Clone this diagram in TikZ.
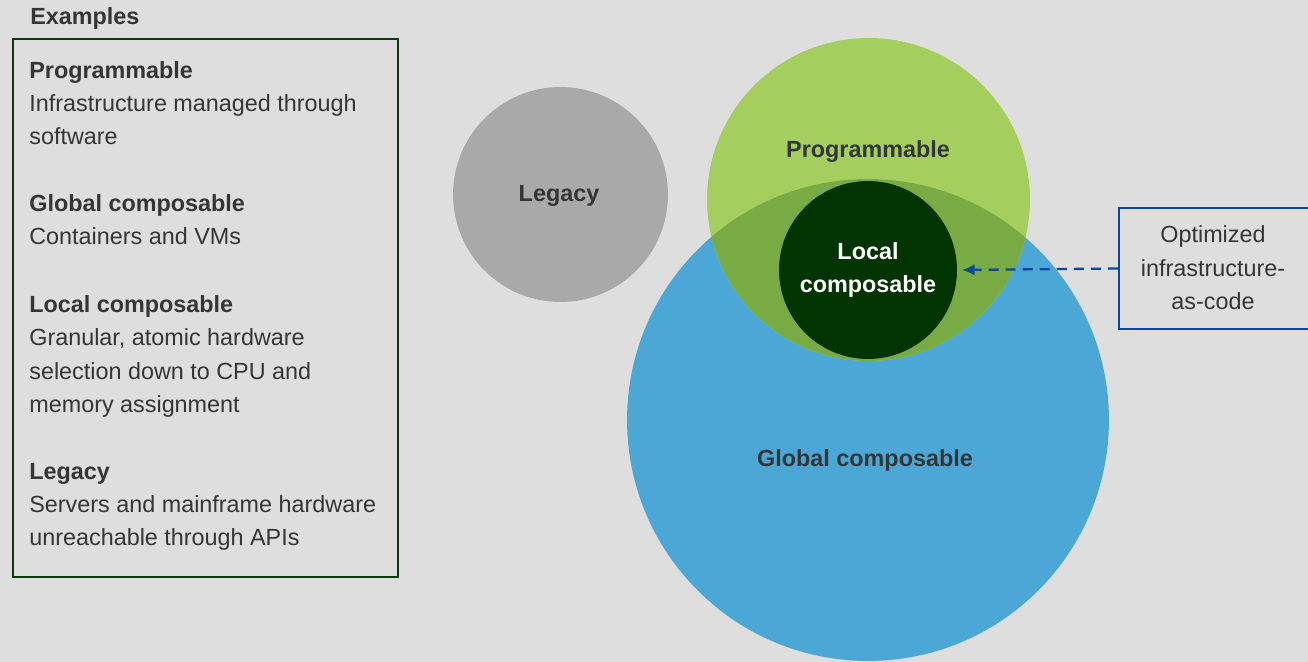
\documentclass[tikz,border=0pt]{standalone}
\usepackage{fontspec}
\setmainfont{Liberation Sans}
\usetikzlibrary{arrows.meta}
\definecolor{bgc}{HTML}{DEDEDE}
\definecolor{txtc}{HTML}{353535}
\definecolor{legacyc}{HTML}{A9A9A9}
\definecolor{progc}{HTML}{A4CF5F}
\definecolor{overlapc}{HTML}{78AB43}
\definecolor{localc}{HTML}{013401}
\definecolor{globc}{HTML}{4BA8D6}
\definecolor{boxgreen}{HTML}{0A3A0A}
\definecolor{arrowblue}{HTML}{0B47A1}
\begin{document}
\begin{tikzpicture}[x=0.02cm,y=-0.02cm,
  txt/.style={inner sep=0pt, anchor=base west, text=txtc, font=\fontsize{13.3}{18.9}\selectfont},
  hd/.style={txt, font=\fontsize{13.3}{18.9}\selectfont\bfseries},
  lbl/.style={inner sep=0pt, anchor=base, text=txtc, font=\fontsize{13.3}{18.9}\selectfont\bfseries},
  wlbl/.style={lbl, text=white},
  ctxt/.style={inner sep=0pt, anchor=base, text=txtc, font=\fontsize{13.3}{18.9}\selectfont},
  disc/.style={circle, inner sep=0pt, draw=none}]
\useasboundingbox (0,0) rectangle (1308,662);
\fill[bgc] (0,0) rectangle (1308,662);

% left panel
\node[hd] (ex) at (30,25) {Examples};
\draw[boxgreen, line width=1.5pt] (13,39) rectangle (398,577);
\node[hd]  (h1)  at (29,79)  {Programmable};
\node[txt] (d1a) at (29,112) {Infrastructure managed through};
\node[txt] (d1b) at (29,145) {software};
\node[hd]  (h2)  at (29,212) {Global composable};
\node[txt] (d2a) at (29,245) {Containers and VMs};
\node[hd]  (h3)  at (29,312) {Local composable};
\node[txt] (d3a) at (29,345) {Granular, atomic hardware};
\node[txt] (d3b) at (29,379) {selection down to CPU and};
\node[txt] (d3c) at (29,412) {memory assignment};
\node[hd]  (h4)  at (29,479) {Legacy};
\node[txt] (d4a) at (29,512) {Servers and mainframe hardware};
\node[txt] (d4b) at (29,545) {unreachable through APIs};

% circles
\node[disc, fill=legacyc, minimum size=4.3cm] (legacy) at (560.5,194.5) {};
\node[disc, fill=globc, minimum size=9.64cm] (glob) at (868,420) {};
\node[disc, fill=progc, minimum size=6.46cm] (prog) at (868.5,199.5) {};
\begin{scope}
  \clip (prog.center) circle[radius=3.23cm];
  \fill[overlapc] (glob.center) circle[radius=4.82cm];
\end{scope}
\node[disc, fill=localc, minimum size=3.56cm] (local) at (868,270) {};

\node[lbl] (legacyl) at (559,202) {Legacy};
\node[lbl] (progl) at (868,158) {Programmable};
\node[wlbl] (locall1) at (868,259) {Local};
\node[wlbl] (locall2) at (868,293) {composable};
\node[lbl] (globl) at (865,466) {Global composable};

% optimized box
\node[draw=arrowblue, line width=1.3pt, minimum width=3.8cm, minimum height=2.42cm, inner sep=0pt] (opt) at (1214,268.5) {};
\node[ctxt] (o1) at (1213,243) {Optimized};
\node[ctxt] (o2) at (1213,276) {infrastructure-};
\node[ctxt] (o3) at (1213,309) {as-code};

\draw[arrowblue, line width=1.3pt, dash pattern=on 5.7pt off 4pt, shorten >=2.8pt,
  -{Latex[length=7pt,width=6.5pt]}] (opt.west) -- (local.east);
\end{tikzpicture}
\end{document}
